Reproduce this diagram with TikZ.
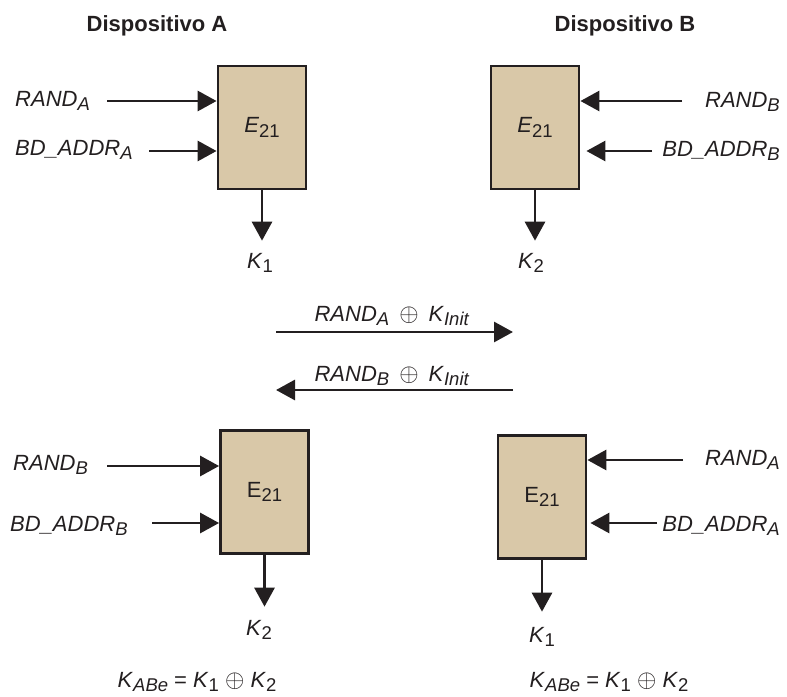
\documentclass[tikz,border=0pt]{standalone}
\usepackage{fontspec}
\setmainfont{Liberation Sans}
\usetikzlibrary{arrows.meta,positioning}
\definecolor{boxtan}{RGB}{217,200,168}
\definecolor{inkdark}{RGB}{35,31,32}
\newcommand{\idx}[2]{\textit{#1}\raisebox{-4.5pt}{\fontsize{18.5}{19}\selectfont\textit{#2}}}
\newcommand{\idxn}[2]{\textit{#1}\raisebox{-4.5pt}{\fontsize{18.5}{19}\selectfont #2}}
\newcommand{\idxup}[2]{#1\raisebox{-4.5pt}{\fontsize{18.5}{19}\selectfont #2}}
\newcommand{\xorsym}{{\fontsize{29}{29}\selectfont$\oplus$}}
\begin{document}
\begin{tikzpicture}[x=1pt,y=-1pt,
	keybox/.style={draw=inkdark,line width=2.8pt,fill=boxtan,minimum width=88pt,minimum height=123pt,inner sep=0pt,text=inkdark,font=\fontsize{22}{26}\selectfont},
	arr/.style={line width=2.9pt,draw=inkdark,-{Triangle[length=19pt,width=20pt]}},
	lbl/.style={inner sep=0pt,text=inkdark,font=\fontsize{22}{26}\selectfont},
	devtitle/.style={inner sep=0pt,text=inkdark,font=\fontsize{22}{26}\selectfont\bfseries}]
	\useasboundingbox (0,0) rectangle (787,696);
	\node[devtitle,anchor=base] (devA) at (157,31) {Dispositivo A};
	\node[devtitle,anchor=base] (devB) at (625,31) {Dispositivo B};
	\node[keybox] (encA) at (262,127.5) {\idxn{E}{21}};
	\node[keybox] (encB) at (535,127.5) {\idxn{E}{21}};
	\node[keybox] (encAe) at (264.5,492) {\idxup{E}{21}};
	\node[keybox] (encBe) at (542,497) {\idxup{E}{21}};
	\node[lbl,anchor=base west] (randA) at (15,106) {\idx{RAND}{A}};
	\node[lbl,anchor=base west] (addrA) at (15,155) {\idx{BD\_ADDR}{A}};
	\node[lbl,anchor=base east] (randB) at (780,107) {\idx{RAND}{B}};
	\node[lbl,anchor=base east] (addrB) at (780,156) {\idx{BD\_ADDR}{B}};
	\node[lbl,anchor=base] (keyA) at (260,268) {\idxn{K}{1}};
	\node[lbl,anchor=base] (keyB) at (531,268) {\idxn{K}{2}};
	\node[lbl,anchor=base west] (randBe) at (13,470) {\idx{RAND}{B}};
	\node[lbl,anchor=base west] (addrBe) at (10,531) {\idx{BD\_ADDR}{B}};
	\node[lbl,anchor=base east] (randAe) at (780,465) {\idx{RAND}{A}};
	\node[lbl,anchor=base east] (addrAe) at (780,531) {\idx{BD\_ADDR}{A}};
	\node[lbl,anchor=base] (keyAe) at (259,635) {\idxn{K}{2}};
	\node[lbl,anchor=base] (keyBe) at (542,642) {\idxn{K}{1}};
	\node[lbl,anchor=base] (sumA) at (197,687) {\idx{K}{ABe} = \idxn{K}{1} \xorsym{} \idxn{K}{2}};
	\node[lbl,anchor=base] (sumB) at (609,687) {\idx{K}{ABe} = \idxn{K}{1} \xorsym{} \idxn{K}{2}};
	\node[lbl,anchor=base] (sendA) at (392,321) {\idx{RAND}{A}\hspace{10pt}\xorsym\hspace{10pt}\idx{K}{Init}};
	\node[lbl,anchor=base] (sendB) at (392,381) {\idx{RAND}{B}\hspace{10pt}\xorsym\hspace{10pt}\idx{K}{Init}};
	\coordinate (randAin) at (107,101);
	\coordinate (addrAin) at (149,151);
	\coordinate (randBin) at (682,101);
	\coordinate (addrBin) at (652,151);
	\coordinate (randBein) at (107,466);
	\coordinate (addrBein) at (152,523);
	\coordinate (randAein) at (683,460);
	\coordinate (addrAein) at (657,523);
	\coordinate (midW) at (276,332);
	\coordinate (midE) at (513,332);
	\coordinate (lowW) at (276,390);
	\coordinate (lowE) at (513,390);
	\draw[arr] (randAin) -- (randAin -| encA.west);
	\draw[arr] (addrAin) -- (addrAin -| encA.west);
	\draw[arr] (randBin) -- (randBin -| encB.east);
	\draw[arr,shorten >=6pt] (addrBin) -- (addrBin -| encB.east);
	\draw[arr] (randBein) -- (randBein -| encAe.west);
	\draw[arr] (addrBein) -- (addrBein -| encAe.west);
	\draw[arr] (randAein) -- (randAein -| encBe.east);
	\draw[arr,shorten >=3pt] (addrAein) -- (addrAein -| encBe.east);
	\draw[arr,shorten >=12pt] (encA.south) -- (encA.south |- keyA.north);
	\draw[arr,shorten >=12pt] (encB.south) -- (encB.south |- keyB.north);
	\draw[arr,shorten >=13pt] (encAe.south) -- (encAe.south |- keyAe.north);
	\draw[arr,shorten >=15pt] (encBe.south) -- (encBe.south |- keyBe.north);
	\draw[arr] (midW) -- (midE);
	\draw[arr] (lowE) -- (lowW);
\end{tikzpicture}
\end{document}
